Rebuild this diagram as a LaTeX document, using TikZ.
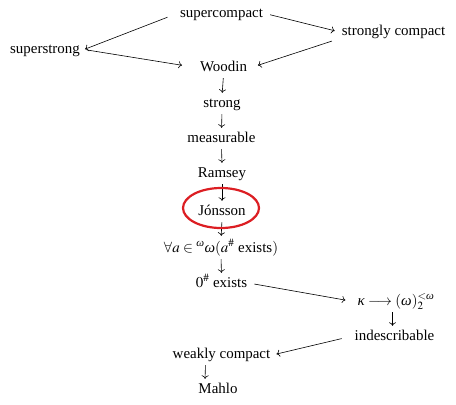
\documentclass[tikz,border=0pt]{standalone}
\usepackage{amsmath}
\usepackage{mathptmx}
\usepackage{fontspec}
\setmainfont{Liberation Serif}
\usepackage{tikz}
\usetikzlibrary{arrows.meta}

\newcommand{\gkappa}{\text{\itshape κ}}
\newcommand{\gomega}{\text{\itshape ω}}
\definecolor{ringred}{RGB}{220,30,35}
\tikzset{
  card/.style={anchor=base, inner xsep=4bp, inner ysep=1bp,
    text height=10bp, text depth=3bp, font=\rmfamily\fontsize{15}{18}\selectfont},
  imp/.style={-{To[length=3.5bp, width=7bp]}, line width=0.6bp,
    shorten <=3bp, shorten >=3bp},
}

\begin{document}
\begin{tikzpicture}[x=1bp, y=-1bp]
	\useasboundingbox (0,0) rectangle (456,404);

	\node[card] (sc) at (221.5, 17.5) {supercompact};
	\node[card] (stc) at (393.5, 35) {strongly compact};
	\node[card] (ss) at (45, 53) {superstrong};
	\node[card] (wd) at (223.5, 71) {Woodin};
	\node[card] (st) at (222, 107) {strong};
	\node[card] (ms) at (221.5, 142) {measurable};
	\node[card] (rm) at (222, 177) {Ramsey};
	\node[card] (jo) at (222, 215) {Jónsson};
	\node[card] (fa) at (221, 252) {$\forall a\in{}^{\gomega}\gomega(a^{\#}\text{ exists})$};
	\node[card] (zs) at (221.5, 287) {$0^{\#}$ exists};
	\node[card] (ka) at (396, 305) {$\gkappa\longrightarrow(\gomega)^{<\gomega}_2$};
	\node[card] (id) at (394.5, 340) {indescribable};
	\node[card] (wc) at (221.5, 358) {weakly compact};
	\node[card] (mh) at (218, 393) {Mahlo};

	% top of the chart
	\draw[imp, shorten <=9bp, shorten >=1bp] (sc.west) -- (ss.east);
	\draw[imp] (sc.east) -- (stc.west);
	\draw[imp, shorten >=14bp] (ss.east) -- (wd.west);
	\draw[imp, shorten <=6bp, shorten >=7bp] (stc.south west) -- (wd.east);

	% the long chain
	\draw[imp] (wd.south) -- (st.north);
	\draw[imp] (st.south) -- (ms.north);
	\draw[imp] (ms.south) -- (rm.north);
	\draw[imp] (rm.south) -- (jo.north);
	\draw[imp, shorten >=5bp] (jo.south) -- (fa.north);
	\draw[imp] (fa.south) -- (zs.north);
	\draw[imp, shorten >=8bp] (zs.east) -- (ka.west);
	\draw[imp] ([xshift=-2bp]id.north |- ka.south) -- ([xshift=-2bp]id.north);
	\draw[imp, shorten <=9bp, shorten >=2bp] (id.west) -- (wc.east);
	\draw[imp] ([xshift=-16bp]wc.south) -- ([xshift=-13bp]mh.north);

	% ring round Jonsson
	\draw[ringred, line width=2.2bp] (221, 208) ellipse [x radius=38, y radius=20];
\end{tikzpicture}
\end{document}
